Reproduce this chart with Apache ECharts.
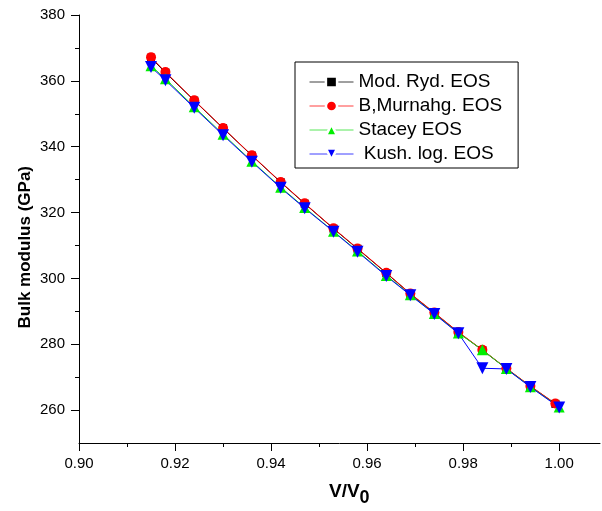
<!DOCTYPE html>
<html>
<head>
<meta charset="utf-8">
<script src="https://cdn.jsdelivr.net/npm/echarts@6/dist/echarts.min.js"></script>
<style>html,body{margin:0;padding:0;background:#fff}#c{width:602px;height:511px}</style>
</head>
<body>
<div id="c"></div>
<script>
// V/V0 values (Mod. Ryd. & B,Murnahg. share one set, Stacey & Kush. log. another)
var vRatioA = [0.915, 0.918, 0.924, 0.930, 0.936, 0.942, 0.947, 0.953, 0.958, 0.964, 0.969, 0.974, 0.979, 0.984, 0.989, 0.994, 0.9992];
var vRatioB = [0.915, 0.918, 0.924, 0.930, 0.936, 0.942, 0.947, 0.953, 0.958, 0.964, 0.969, 0.974, 0.979, 0.984, 0.989, 0.994, 1.000];
// Bulk modulus (GPa)
var modRyd   = [367.0, 362.5, 354.0, 345.6, 337.3, 329.2, 322.7, 315.1, 309.0, 301.6, 295.3, 289.5, 283.6, 278.2, 272.6, 267.2, 261.9];
var bMurn    = [367.2, 362.7, 354.1, 345.7, 337.4, 329.3, 322.8, 315.2, 309.1, 301.7, 295.4, 289.6, 283.7, 278.3, 272.7, 267.3, 262.0];
var stacey   = [364.6, 360.6, 352.1, 343.8, 335.6, 327.7, 321.5, 314.3, 308.3, 300.9, 295.0, 289.3, 283.4, 278.3, 272.6, 267.1, 260.9];
var kushLog  = [364.2, 360.2, 351.8, 343.5, 335.4, 327.5, 321.3, 314.2, 308.1, 300.7, 294.9, 289.2, 283.3, 272.7, 272.5, 267.0, 260.8];
// axis ticks
var xMajorTicks = [0.90, 0.92, 0.94, 0.96, 0.98, 1.00];
var xMinorTicks = [0.91, 0.93, 0.95, 0.97, 0.99];
var yMajorTicks = [260, 280, 300, 320, 340, 360, 380];
var yMinorTicks = [270, 290, 310, 330, 350, 370];
var seriesNames = ['Mod. Ryd. EOS', 'B,Murnahg. EOS', 'Stacey EOS', ' Kush. log. EOS'];

function pairs(xs, ys) { return xs.map(function (x, i) { return [x, ys[i]]; }); }

var FONT = 'Liberation Sans, Arial, sans-serif';
var chart = echarts.init(document.getElementById('c'), null, {renderer: 'canvas'});
chart.setOption({
  animation: false,
  backgroundColor: '#fff',
  grid: {left: 79, right: 2, top: 15, bottom: 68},
  legend: {
    left: 295, top: 62,
    orient: 'vertical',
    borderColor: '#000', borderWidth: 1,
    padding: [10, 16, 4, 14],
    itemWidth: 44, itemHeight: 14, itemGap: 4,
    itemStyle: {borderColor: '#fff', borderWidth: 2.5},
    lineStyle: {width: 1, opacity: 0.75},
    textStyle: {fontFamily: FONT, fontSize: 19, color: '#000', lineHeight: 20},
    data: seriesNames
  },
  xAxis: [{
    type: 'value', min: 0.90, max: 1.0085, interval: 0.01,
    axisLine: {lineStyle: {color: '#000', width: 1}},
    axisTick: {show: true, length: 8, customValues: xMajorTicks, lineStyle: {color: '#000'}},
    axisLabel: {customValues: xMajorTicks, margin: 13, fontFamily: FONT, fontSize: 15, color: '#000',
      formatter: function (v) { return v.toFixed(2); }},
    splitLine: {show: false}
  }, {
    type: 'value', min: 0.90, max: 1.0085, interval: 0.01, position: 'bottom', offset: 0,
    axisLine: {show: false},
    axisTick: {show: true, length: 4, customValues: xMinorTicks, lineStyle: {color: '#000'}},
    axisLabel: {show: false},
    splitLine: {show: false}
  }],
  yAxis: [{
    type: 'value', min: 250, max: 380, interval: 10,
    axisLine: {show: true, lineStyle: {color: '#000', width: 1}},
    axisTick: {show: true, length: 8, customValues: yMajorTicks, lineStyle: {color: '#000'}},
    axisLabel: {customValues: yMajorTicks, margin: 14, fontFamily: FONT, fontSize: 15, color: '#000'},
    splitLine: {show: false}
  }, {
    type: 'value', min: 250, max: 380, interval: 10, position: 'left', offset: 0,
    axisLine: {show: false},
    axisTick: {show: true, length: 4, customValues: yMinorTicks, lineStyle: {color: '#000'}},
    axisLabel: {show: false},
    splitLine: {show: false}
  }],
  graphic: [{
    type: 'text', left: 17, top: 166, rotation: Math.PI / 2,
    style: {text: 'Bulk modulus (GPa)', fontFamily: FONT, fontSize: 17, fontWeight: 'bold', fill: '#000'}
  }, {
    type: 'text', left: 329, top: 482,
    style: {
      text: '{a|V/V}{b|0}',
      rich: {
        a: {fontFamily: FONT, fontSize: 19, fontWeight: 'bold', color: '#000'},
        b: {fontFamily: FONT, fontSize: 18, fontWeight: 'bold', color: '#000', padding: [13, 0, 0, 0]}
      }
    }
  }],
  series: [{
    name: seriesNames[0], type: 'line', data: pairs(vRatioA, modRyd),
    symbol: 'rect', symbolSize: 8, color: '#000000',
    lineStyle: {width: 1, color: '#000000'}, itemStyle: {color: '#000000'}
  }, {
    name: seriesNames[1], type: 'line', data: pairs(vRatioA, bMurn),
    symbol: 'circle', symbolSize: 10, color: '#ff0000',
    lineStyle: {width: 1, color: '#ff0000'}, itemStyle: {color: '#ff0000'}
  }, {
    name: seriesNames[2], type: 'line', data: pairs(vRatioB, stacey),
    symbol: 'triangle', symbolSize: 11, color: '#00ee00',
    lineStyle: {width: 1, color: '#22dd22'}, itemStyle: {color: '#00ee00'}
  }, {
    name: seriesNames[3], type: 'line', data: pairs(vRatioB, kushLog),
    symbol: 'triangle', symbolRotate: 180, symbolSize: 12, color: '#0000ff',
    lineStyle: {width: 1, color: '#0000ff'}, itemStyle: {color: '#0000ff'}
  }]
});
</script>
</body>
</html>
